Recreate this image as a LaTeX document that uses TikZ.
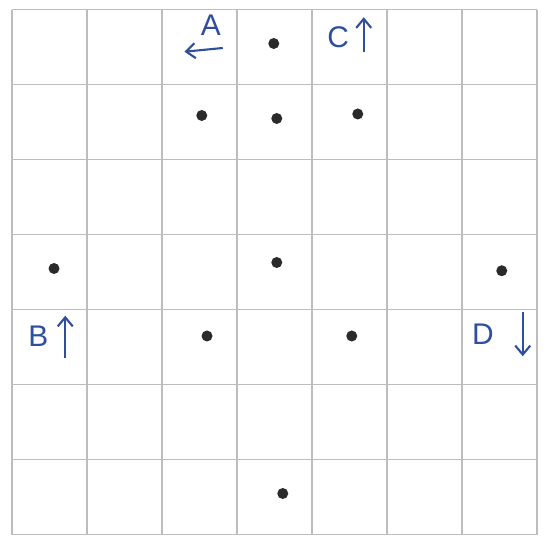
\documentclass[tikz,border=0pt]{standalone}
\usepackage{fontspec}
\setmainfont{Liberation Sans}
\usepackage{tikz}
\usetikzlibrary{arrows.meta}
\definecolor{Pencil}{HTML}{BDBDBD}
\definecolor{Ink}{HTML}{2A2A2A}
\definecolor{Pen}{HTML}{2F4F9E}
\tikzset{
  gridline/.style={draw=Pencil, line width=0.8pt},
  stone/.style={circle, fill=Ink, minimum size=0.22cm, inner sep=0pt},
  tag/.style={text=Pen, font=\fontsize{17}{19}\selectfont, inner sep=0pt},
  hint/.style={-{Straight Barb[length=1.8mm,width=3mm]}, draw=Pen, line width=1.2pt}
}

\begin{document}
\begin{tikzpicture}[x=1.5cm,y=1.5cm]
    \useasboundingbox[fill=white] (-0.16,-0.17) rectangle (7.16,7.13);
    \draw[gridline,step=1.5cm] (0,0) grid (7,7);
    % stones
    \node[stone] (top) at (3.49,6.55) {};
    \node[stone] (uleft) at (2.53,5.59) {};
    \node[stone] (umid) at (3.53,5.55) {};
    \node[stone] (uright) at (4.61,5.61) {};
    \node[stone] (west) at (0.56,3.55) {};
    \node[stone] (centre) at (3.53,3.63) {};
    \node[stone] (east) at (6.53,3.52) {};
    \node[stone] (lleft) at (2.60,2.65) {};
    \node[stone] (lright) at (4.53,2.65) {};
    \node[stone] (bottom) at (3.61,0.55) {};
    % labels
    \node[tag] (labA) at (2.65,6.80) {A};
    \node[tag] (labC) at (4.35,6.63) {C};
    \node[tag] (labB) at (0.35,2.65) {B};
    \node[tag] (labD) at (6.28,2.68) {D};
    \coordinate (atail) at (2.81,6.49);
    \coordinate (ahead) at (2.30,6.44);
    \coordinate (ctail) at (4.69,6.44);
    \coordinate (chead) at (4.69,6.90);
    \coordinate (btail) at (0.71,2.36);
    \coordinate (bhead) at (0.71,2.92);
    \coordinate (dtail) at (6.81,2.97);
    \coordinate (dhead) at (6.81,2.38);
    \draw[hint] (atail)--(ahead);
    \draw[hint] (ctail)--(chead);
    \draw[hint] (btail)--(bhead);
    \draw[hint] (dtail)--(dhead);
\end{tikzpicture}
\end{document}
